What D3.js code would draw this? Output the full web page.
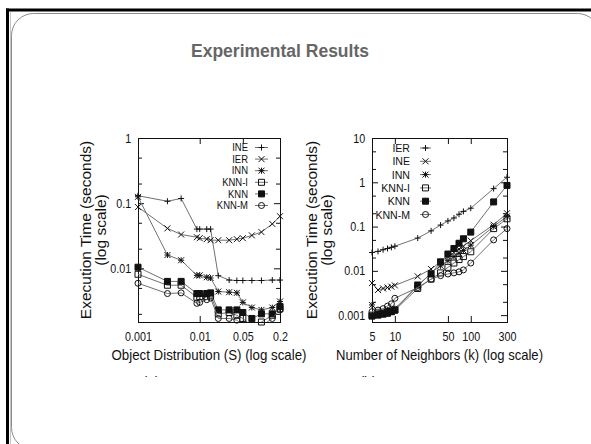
<!DOCTYPE html>
<html>
<head>
<meta charset="utf-8">
<script src="https://cdn.jsdelivr.net/npm/d3@7"></script>
<style>
body { margin: 0; background: #fff; }
svg { display: block; font-family: "Liberation Sans", Arial, Helvetica, sans-serif; }
</style>
</head>
<body>
<div class="chart"></div>
<script>
// Plot (a): execution time vs object distribution S
const distS = [0.001, 0.003, 0.005, 0.009, 0.01, 0.013, 0.015, 0.02, 0.03, 0.04, 0.05, 0.07, 0.1, 0.15, 0.2];
const distNames = ['INE', 'IER', 'INN', 'KNN-I', 'KNN', 'KNN-M'];
const distINE  = [0.13, 0.107, 0.118, 0.040, 0.040, 0.040, 0.040, 0.0077, 0.0066, 0.0065, 0.0065, 0.0065, 0.0065, 0.0066, 0.0066];
const distIER  = [0.087, 0.041, 0.033, 0.030, 0.029, 0.028, 0.027, 0.027, 0.027, 0.028, 0.029, 0.032, 0.036, 0.048, 0.063];
const distINN  = [0.125, 0.016, 0.0133, 0.0078, 0.0078, 0.0073, 0.0071, 0.0044, 0.0043, 0.0042, 0.0030, 0.0025, 0.0023, 0.0025, 0.0031];
const distKNNI = [0.0081, 0.0055, 0.0055, 0.0036, 0.0037, 0.0037, 0.0038, 0.0020, 0.0021, 0.0019, 0.0017, 0.0013, 0.0015, 0.0019, 0.0024];
const distKNN  = [0.0104, 0.0063, 0.0063, 0.0041, 0.0041, 0.0041, 0.0042, 0.0023, 0.0023, 0.0023, 0.0021, 0.0017, 0.0020, 0.0020, 0.0026];
const distKNNM = [0.0059, 0.0041, 0.0042, 0.0029, 0.0030, 0.0033, 0.0035, 0.0017, 0.0017, 0.0016, 0.0013, 0.0011, 0.0013, 0.0017, 0.0023];
const distXTicks = [0.001, 0.01, 0.05, 0.2];
const distYTicks = [1, 0.1, 0.01];

// Plot (b): execution time vs number of neighbors k
const nnK = [5, 6, 7, 8, 9, 10, 20, 30, 40, 50, 60, 70, 80, 100, 200, 300];
const nnNames = ['IER', 'INE', 'INN', 'KNN-I', 'KNN', 'KNN-M'];
const nnIER  = [0.026, 0.0275, 0.030, 0.032, 0.034, 0.036, 0.055, 0.080, 0.108, 0.134, 0.156, 0.19, 0.22, 0.26, 0.72, 1.3];
const nnINE  = [0.0053, 0.0037, 0.0040, 0.0042, 0.0044, 0.0047, 0.0075, 0.011, 0.016, 0.021, 0.026, 0.031, 0.036, 0.048, 0.11, 0.2];
const nnINN  = [0.0017, 0.0012, 0.0012, 0.0013, 0.0013, 0.0014, 0.0045, 0.009, 0.013, 0.017, 0.021, 0.025, 0.029, 0.038, 0.10, 0.17];
const nnKNNI = [0.0010, 0.0011, 0.0011, 0.0012, 0.0012, 0.0013, 0.0040, 0.0065, 0.009, 0.012, 0.015, 0.018, 0.021, 0.027, 0.09, 0.15];
const nnKNN  = [0.00095, 0.0010, 0.00105, 0.0011, 0.0012, 0.0013, 0.0048, 0.0085, 0.016, 0.024, 0.032, 0.042, 0.053, 0.075, 0.36, 0.85];
const nnKNNM = [0.0012, 0.0013, 0.0014, 0.0016, 0.0018, 0.0024, 0.0042, 0.0065, 0.0078, 0.0085, 0.009, 0.0095, 0.0105, 0.015, 0.05, 0.09];
const nnXTicks = [5, 10, 50, 100, 300];
const nnYTicks = [10, 1, 0.1, 0.01, 0.001];

const width = 591, height = 444;
const markerTypes = ['plus', 'cross', 'star', 'box', 'boxFilled', 'circle'];
const lineColor = '#707070', pointColor = '#111';
const squish = 0.86; // reference text is horizontally condensed

const svg = d3.select('.chart').append('svg')
    .attr('width', width)
    .attr('height', height);

// Slide frame
svg.append('rect')
    .attr('x', 11.5).attr('y', 13.5)
    .attr('width', 588).attr('height', 436)
    .attr('rx', 22)
    .attr('fill', 'none')
    .attr('stroke', '#8c8c8c');
svg.append('line').attr('x1', 10.5).attr('y1', 12).attr('x2', 10.5).attr('y2', height)
    .attr('stroke', '#c4c4c4');
svg.append('line').attr('x1', 7.5).attr('y1', 8.5).attr('x2', 7.5).attr('y2', height)
    .attr('stroke', '#000').attr('stroke-width', 3);
svg.append('line').attr('x1', 6).attr('y1', 10).attr('x2', width).attr('y2', 10)
    .attr('stroke', '#000').attr('stroke-width', 3);

svg.append('text')
    .attr('x', 280).attr('y', 57)
    .attr('text-anchor', 'middle')
    .style('font-size', '17.5px')
    .style('font-weight', 'bold')
    .attr('fill', '#666')
    .text('Experimental Results');

function drawMarker(g, type, cx, cy, r) {
    const m = g.append('g').attr('transform', `translate(${cx},${cy})`);
    const plus = `M${-r},0H${r}M0,${-r}V${r}`;
    const cross = `M${-r},${-r}L${r},${r}M${-r},${r}L${r},${-r}`;
    if (type === 'circle') {
        m.append('circle').attr('r', r).attr('fill', 'none').attr('stroke', pointColor);
        return;
    }
    let d = plus, fill = 'none';
    if (type === 'cross') d = cross;
    if (type === 'star') d = plus + cross;
    if (type === 'box' || type === 'boxFilled') d = `M${-r},${-r}H${r}V${r}H${-r}Z`;
    if (type === 'boxFilled') fill = pointColor;
    m.append('path').attr('d', d).attr('fill', fill).attr('stroke', pointColor).attr('stroke-width', 1);
}

function minorTicks(domain) {
    const out = [];
    for (let e = Math.floor(Math.log10(domain[0])); e <= Math.ceil(Math.log10(domain[1])); e++) {
        [2, 5].forEach(m => {
            const v = m * Math.pow(10, e);
            if (v > domain[0] && v < domain[1]) out.push(v);
        });
    }
    return out;
}

function drawPlot(p) {
    const g = svg.append('g');
    const x = p.x, y = p.y;
    const [x0, x1] = x.range();
    const [bottom, top] = y.range();
    const fmt = d => String(d);

    g.append('clipPath').attr('id', 'clip-' + p.id).append('rect')
        .attr('x', x0).attr('y', top).attr('width', x1 - x0).attr('height', bottom - top);

    const styleAxis = sel => {
        sel.select('.domain').remove();
        sel.attr('font-family', null).attr('font-size', null);
        sel.selectAll('text').style('font-size', p.tickFont + 'px').attr('fill', '#111')
            .attr('transform', `scale(${squish},1)`);
        sel.selectAll('line').attr('stroke', '#111');
    };

    // major ticks with labels (inward)
    g.append('g').attr('transform', `translate(${x0},0)`)
        .call(d3.axisLeft(y).tickValues(p.yTicks).tickFormat(fmt).tickSizeInner(-6).tickSizeOuter(0).tickPadding(8))
        .call(styleAxis);
    g.append('g').attr('transform', `translate(0,${bottom})`)
        .call(d3.axisBottom(x).tickValues(p.xTicks).tickFormat(fmt).tickSizeInner(-6).tickSizeOuter(0).tickPadding(10))
        .call(styleAxis);
    // mirrored ticks
    g.append('g').attr('transform', `translate(${x1},0)`)
        .call(d3.axisRight(y).tickValues(p.yTicks).tickFormat('').tickSizeInner(-6).tickSizeOuter(0))
        .call(styleAxis);
    g.append('g').attr('transform', `translate(0,${top})`)
        .call(d3.axisTop(x).tickValues(p.xTicks).tickFormat('').tickSizeInner(-6).tickSizeOuter(0))
        .call(styleAxis);
    // minor y ticks
    const minors = minorTicks(y.domain());
    g.append('g').attr('transform', `translate(${x0},0)`)
        .call(d3.axisLeft(y).tickValues(minors).tickFormat('').tickSizeInner(-4).tickSizeOuter(0))
        .call(styleAxis);
    g.append('g').attr('transform', `translate(${x1},0)`)
        .call(d3.axisRight(y).tickValues(minors).tickFormat('').tickSizeInner(-4).tickSizeOuter(0))
        .call(styleAxis);

    // border
    g.append('rect')
        .attr('x', x0 + 0.5).attr('y', top + 0.5)
        .attr('width', x1 - x0).attr('height', bottom - top)
        .attr('fill', 'none').attr('stroke', '#111');

    // series
    const line = d3.line().x(d => x(d[0])).y(d => y(d[1]));
    p.series.forEach((vals, i) => {
        const pts = p.xs.map((v, j) => [v, vals[j]]);
        g.append('path')
            .datum(pts)
            .attr('d', line)
            .attr('clip-path', `url(#clip-${p.id})`)
            .attr('fill', 'none')
            .attr('stroke', lineColor)
            .attr('stroke-width', 1);
        pts.filter(d => d[1] >= y.domain()[0] && d[1] <= y.domain()[1])
            .forEach(d => drawMarker(g, markerTypes[i], x(d[0]), y(d[1]), 3));
    });

    // legend
    p.names.forEach((name, i) => {
        const ly = p.legendY0 + i * p.legendDy;
        g.append('text')
            .attr('transform', `translate(${p.legendTextX},${ly}) scale(${p.legendSquish},1)`)
            .attr('dy', '0.36em')
            .attr('text-anchor', 'end')
            .style('font-size', p.legendFont + 'px')
            .attr('fill', '#111')
            .text(name);
        g.append('line')
            .attr('x1', p.legendLine[0]).attr('x2', p.legendLine[1])
            .attr('y1', ly).attr('y2', ly)
            .attr('stroke', lineColor);
        drawMarker(g, markerTypes[i], (p.legendLine[0] + p.legendLine[1]) / 2, ly, 3);
    });

    // axis titles
    const midY = (top + bottom) / 2;
    [['Execution Time (seconds)', p.yTitleX[0]], ['(log scale)', p.yTitleX[1]]].forEach(([t, bx]) => {
        g.append('text')
            .attr('transform', `translate(${bx},${midY}) rotate(-90)`)
            .attr('text-anchor', 'middle')
            .style('font-size', '15.5px')
            .attr('fill', '#111')
            .text(t);
    });
    g.append('text')
        .attr('x', (x0 + x1) / 2 - p.xTitleLen / 2).attr('y', 359.5)
        .attr('textLength', p.xTitleLen)
        .attr('lengthAdjust', 'spacingAndGlyphs')
        .style('font-size', '15px')
        .attr('fill', '#111')
        .text(p.xTitle);

    // sub-caption, cut off at the bottom like the reference
    g.append('clipPath').attr('id', 'cap-' + p.id).append('rect')
        .attr('x', 0).attr('y', 0).attr('width', width).attr('height', 377);
    g.append('text')
        .attr('x', p.captionX).attr('y', 387)
        .attr('text-anchor', 'middle')
        .attr('clip-path', `url(#cap-${p.id})`)
        .style('font-size', '14px')
        .attr('fill', '#111')
        .text(p.caption);
}

drawPlot({
    id: 'a',
    x: d3.scaleLog().domain([0.001, 0.2]).range([138, 280]),
    y: d3.scaleLog().domain([0.0015, 1]).range([322, 138]),
    xs: distS,
    series: [distINE, distIER, distINN, distKNNI, distKNN, distKNNM],
    names: distNames,
    xTicks: distXTicks,
    yTicks: distYTicks,
    tickFont: 12.5,
    legendFont: 10,
    legendSquish: 0.95,
    legendTextX: 248,
    legendLine: [255, 268],
    legendY0: 147.5,
    legendDy: 11.6,
    yTitleX: [91, 106],
    xTitle: 'Object Distribution (S) (log scale)',
    xTitleLen: 195,
    caption: '(a)',
    captionX: 151
});

drawPlot({
    id: 'b',
    x: d3.scaleLog().domain([5, 300]).range([372, 507]),
    y: d3.scaleLog().domain([0.0007, 10]).range([322, 138]),
    xs: nnK,
    series: [nnIER, nnINE, nnINN, nnKNNI, nnKNN, nnKNNM],
    names: nnNames,
    xTicks: nnXTicks,
    yTicks: nnYTicks,
    tickFont: 12.5,
    legendFont: 11.5,
    legendSquish: 0.92,
    legendTextX: 410,
    legendLine: [420, 431],
    legendY0: 148,
    legendDy: 13.3,
    yTitleX: [317, 332],
    xTitle: 'Number of Neighbors (k) (log scale)',
    xTitleLen: 207,
    caption: '(b)',
    captionX: 368
});
</script>
</body>
</html>
